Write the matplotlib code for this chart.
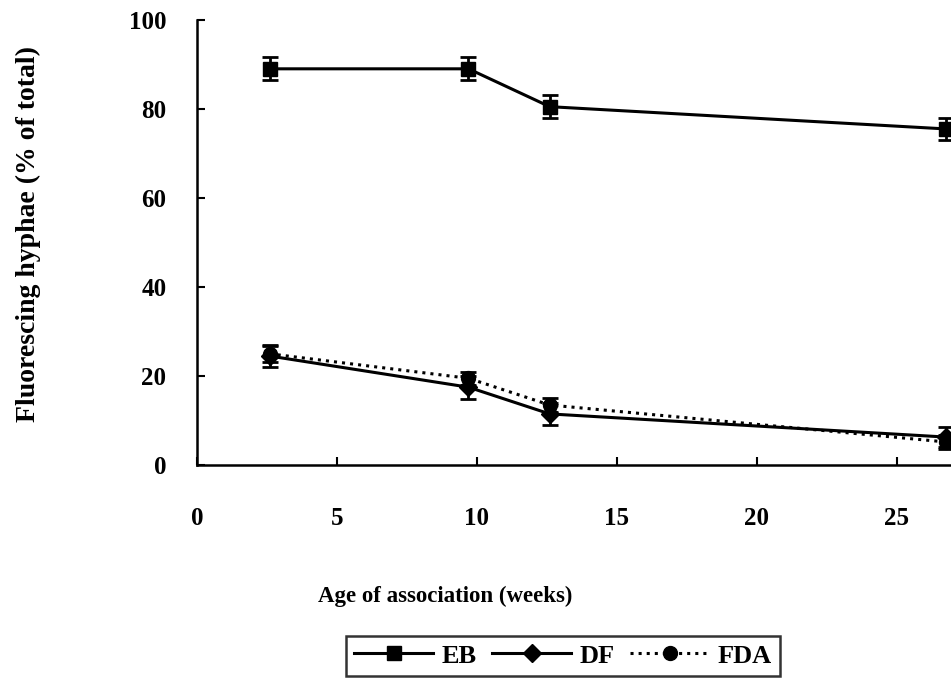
import numpy as np
import matplotlib.pyplot as plt
from matplotlib.lines import Line2D

# data
weeks = [2.6, 9.7, 12.6, 26.75]
eb = [89.0, 89.0, 80.5, 75.5]
eb_err = [2.6, 2.6, 2.6, 2.4]
df = [24.5, 17.5, 11.5, 6.3]
df_err = [2.4, 2.6, 2.4, 2.2]
fda = [25.0, 19.5, 13.5, 5.2]
fda_err = [1.8, 1.5, 1.6, 1.6]

plt.rcParams['font.family'] = ['Liberation Serif', 'DejaVu Serif']
plt.rcParams['font.weight'] = 'bold'

fig = plt.figure(figsize=(9.51, 6.84), dpi=100)
ax = fig.add_axes([0.207, 0.320, 0.793, 0.651])

ax.errorbar(weeks, eb, yerr=eb_err, color='black', lw=2.2, marker='s', ms=10,
            capsize=6, capthick=2, elinewidth=2, zorder=3)
ax.errorbar(weeks, df, yerr=df_err, color='black', lw=2.2, marker='D', ms=9,
            capsize=6, capthick=2, elinewidth=2, zorder=3)
ax.errorbar(weeks, fda, yerr=fda_err, color='black', lw=2.2, ls=':', marker='o', ms=10,
            capsize=6, capthick=2, elinewidth=2, zorder=3)

ax.set_xlim(0, 26.93)
ax.set_ylim(0, 100)
ax.set_xticks([0, 5, 10, 15, 20, 25])
ax.set_yticks([0, 20, 40, 60, 80, 100])
ax.spines['top'].set_visible(False)
ax.spines['right'].set_visible(False)
ax.spines['left'].set_linewidth(1.8)
ax.spines['bottom'].set_linewidth(1.8)
ax.tick_params(axis='x', direction='in', length=6, width=1.5, pad=30, labelsize=18)
ax.tick_params(axis='y', direction='in', length=6, width=1.5, pad=22, labelsize=18)
for lab in ax.get_xticklabels() + ax.get_yticklabels():
    lab.set_fontweight('bold')

ax.set_xlabel('Age of association (weeks)', fontsize=16.5, fontweight='bold')
ax.xaxis.set_label_coords(0.329, -0.27)
ax.set_ylabel('Fluorescing hyphae (% of total)', fontsize=20, fontweight='bold')
ax.yaxis.set_label_coords(-0.207, 0.52)

handles = [
    Line2D([], [], color='black', lw=2.2, marker='s', ms=10),
    Line2D([], [], color='black', lw=2.2, marker='D', ms=9),
    Line2D([], [], color='black', lw=2.2, ls=':', marker='o', ms=10),
]
leg = fig.legend(handles, ['EB', 'DF', 'FDA'], loc='center', bbox_to_anchor=(0.592, 0.041),
                 ncol=3, frameon=True, fancybox=False, edgecolor='black', fontsize=19,
                 handlelength=3.0, handletextpad=0.3, columnspacing=0.6, borderpad=0.3,
                 borderaxespad=0)
leg.get_frame().set_linewidth(1.8)
for t in leg.get_texts():
    t.set_fontweight('bold')

fig.savefig('out.png', dpi=100)
